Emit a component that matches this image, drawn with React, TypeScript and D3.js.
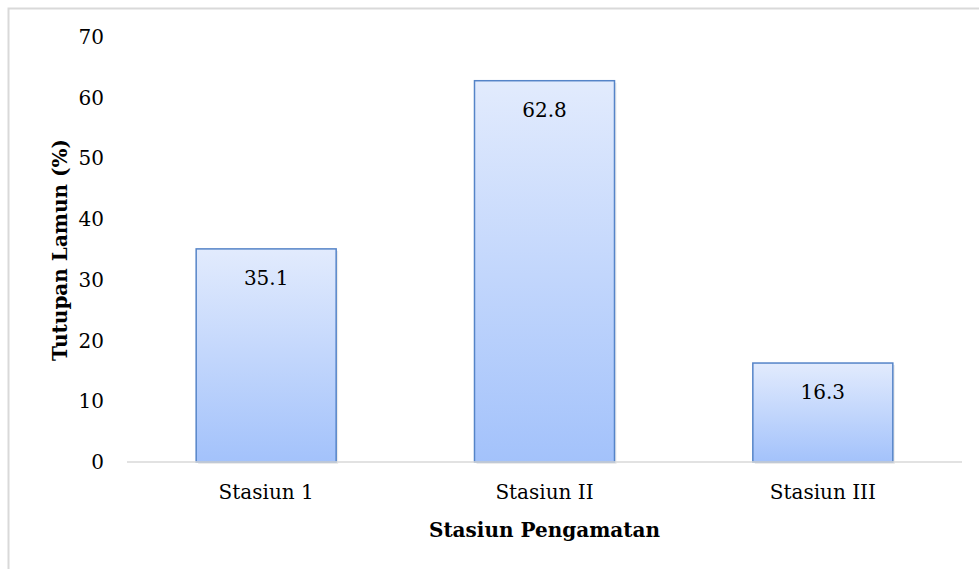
import { scaleBand, scaleLinear } from "d3";

const WIDTH = 979;
const HEIGHT = 569;
const MARGIN = { top: 37, right: 17, bottom: 107, left: 127 };

const STATIONS = ["Stasiun 1", "Stasiun II", "Stasiun III"];
const COVER = [35.1, 62.8, 16.3];
const Y_TICKS = [0, 10, 20, 30, 40, 50, 60, 70];

const FONT = "'DejaVu Serif', 'Liberation Serif', serif";

export default function App() {
  const xScale = scaleBand<string>()
    .domain(STATIONS)
    .range([MARGIN.left, WIDTH - MARGIN.right]);
  const yScale = scaleLinear()
    .domain([0, 70])
    .range([HEIGHT - MARGIN.bottom, MARGIN.top]);

  const band = xScale.bandwidth();
  const barWidth = band * 0.503;
  const baseY = yScale(0);

  return (
    <div style={{ position: "fixed", left: 0, top: 0 }}>
      <svg width={WIDTH} height={HEIGHT} viewBox={`0 0 ${WIDTH} ${HEIGHT}`}>
        <defs>
          <linearGradient id="barFill" x1="0" y1="0" x2="0" y2="1">
            <stop offset="0%" stopColor="#e2ebfd" />
            <stop offset="100%" stopColor="#a3c2fb" />
          </linearGradient>
        </defs>
        <rect x={0} y={0} width={WIDTH} height={HEIGHT} fill="#ffffff" />
        <rect
          x={8.5}
          y={8.5}
          width={WIDTH + 20}
          height={HEIGHT + 20}
          fill="none"
          stroke="#d9d9d9"
          strokeWidth={2}
        />

        {/* y tick labels */}
        {Y_TICKS.map((t) => (
          <text
            key={t}
            x={MARGIN.left - 23}
            y={yScale(t)}
            dy="0.35em"
            textAnchor="end"
            fontFamily={FONT}
            fontSize={20}
            fill="#000"
          >
            {t}
          </text>
        ))}

        {/* bars */}
        {STATIONS.map((s, i) => {
          const x = (xScale(s) ?? 0) + (band - barWidth) / 2;
          const y = yScale(COVER[i]);
          return (
            <g key={s}>
              <rect
                x={x + 2}
                y={y + 2}
                width={barWidth}
                height={baseY - y}
                fill="#000"
                opacity={0.08}
              />
              <rect
                x={x}
                y={y}
                width={barWidth}
                height={baseY - y}
                fill="url(#barFill)"
                stroke="#5584c8"
                strokeWidth={1.5}
              />
              <text
                x={x + barWidth / 2}
                y={y + 29}
                dy="0.35em"
                textAnchor="middle"
                fontFamily={FONT}
                fontSize={20}
                fill="#000"
              >
                {COVER[i].toFixed(1)}
              </text>
            </g>
          );
        })}

        {/* baseline */}
        <line
          x1={MARGIN.left}
          x2={WIDTH - MARGIN.right}
          y1={baseY}
          y2={baseY}
          stroke="#d9d9d9"
          strokeWidth={1.5}
        />

        {/* x tick labels */}
        {STATIONS.map((s) => (
          <text
            key={s}
            x={(xScale(s) ?? 0) + band / 2}
            y={baseY + 30}
            dy="0.35em"
            textAnchor="middle"
            fontFamily={FONT}
            fontSize={20}
            fill="#000"
          >
            {s}
          </text>
        ))}

        <text
          x={(MARGIN.left + WIDTH - MARGIN.right) / 2}
          y={530}
          dy="0.35em"
          textAnchor="middle"
          fontFamily={FONT}
          fontSize={20}
          fontWeight="bold"
          fill="#000"
        >
          Stasiun Pengamatan
        </text>

        <text
          transform="translate(60, 250) rotate(-90)"
          dy="0.35em"
          textAnchor="middle"
          fontFamily={FONT}
          fontSize={20}
          fontWeight="bold"
          fill="#000"
        >
          Tutupan Lamun (%)
        </text>
      </svg>
    </div>
  );
}
